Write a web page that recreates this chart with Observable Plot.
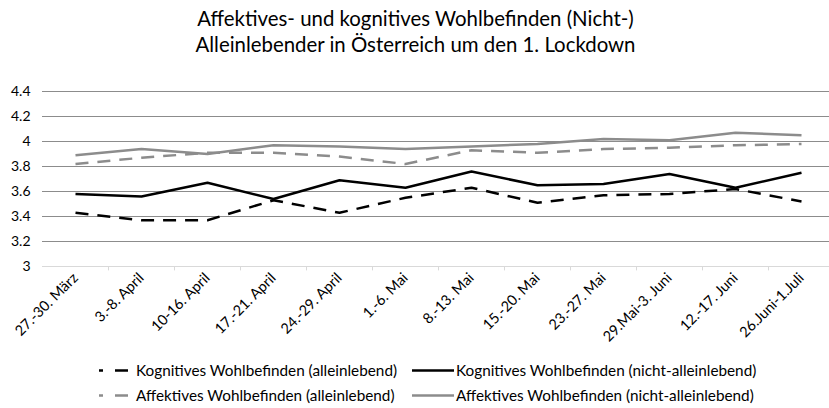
<!DOCTYPE html>
<html><head><meta charset="utf-8">
<script src="https://cdn.jsdelivr.net/npm/d3@7"></script>
<script src="https://cdn.jsdelivr.net/npm/@observablehq/plot@0.6"></script>
<style>
body{margin:0;background:#fff;font-family:Lato,sans-serif;width:829px;height:408px;overflow:hidden;position:relative;color:#000}
#title{height:60px;text-align:center;font-size:20.4px;line-height:26px;padding-top:5px;box-sizing:border-box;padding-left:2px}
#chart svg{display:block}
.leg{position:absolute;font-size:15.3px;white-space:nowrap;line-height:16px}
.leg svg{position:absolute;left:0;top:0}
</style></head><body>
<div id="title">Affektives- und kognitives Wohlbefinden (Nicht-)<br>Alleinlebender in Österreich um den 1. Lockdown</div>
<div id="chart"></div>
<div id="legend"></div>
<script>
const categories = ["27.-30. März","3.-8. April","10-16. April","17.-21. April","24.-29. April","1.-6. Mai","8.-13. Mai","15.-20. Mai","23.-27. Mai","29.Mai-3. Juni","12.-17. Juni","26.Juni-1.Juli"];
const kognitivAllein = [3.43,3.37,3.37,3.53,3.43,3.55,3.63,3.51,3.57,3.58,3.62,3.52];
const kognitivNichtAllein = [3.58,3.56,3.67,3.54,3.69,3.63,3.76,3.65,3.66,3.74,3.63,3.75];
const affektivAllein = [3.82,3.87,3.91,3.91,3.88,3.82,3.93,3.91,3.94,3.95,3.97,3.98];
const affektivNichtAllein = [3.89,3.94,3.90,3.97,3.96,3.94,3.96,3.98,4.02,4.01,4.07,4.05];
const yTicks = [3,3.2,3.4,3.6,3.8,4,4.2,4.4];
const seriesNames = ["Kognitives Wohlbefinden (alleinlebend)","Kognitives Wohlbefinden (nicht-alleinlebend)","Affektives Wohlbefinden (alleinlebend)","Affektives Wohlbefinden (nicht-alleinlebend)"];

const BLACK = "#000", GRAY = "#8c8c8c", DASH = "13,9";
const series = [
  {name: seriesNames[0], values: kognitivAllein, color: BLACK, dash: DASH},
  {name: seriesNames[1], values: kognitivNichtAllein, color: BLACK, dash: null},
  {name: seriesNames[2], values: affektivAllein, color: GRAY, dash: DASH},
  {name: seriesNames[3], values: affektivNichtAllein, color: GRAY, dash: null}
];
const idx = d3.range(categories.length);
const boundaries = d3.range(categories.length - 1).map(i => i + 0.5);

const chart = Plot.plot({
  width: 829, height: 290,
  marginTop: 31, marginBottom: 84, marginLeft: 42, marginRight: 0,
  x: {domain: [-0.5, categories.length - 0.5], range: [42, 834]},
  y: {domain: [3, 4.4], range: [206, 31]},
  style: {fontFamily: "Lato, sans-serif", fontSize: "13px", color: "#000", background: "#fff"},
  marks: [
    Plot.ruleY(yTicks.filter(d => d > 3), {stroke: "#8c8c8c", strokeWidth: 1}),
    Plot.ruleY([3], {stroke: "#d9d9d9", strokeWidth: 1}),
    Plot.ruleX(boundaries, {y1: 3, y2: 2.965, stroke: "#d9d9d9"}),
    Plot.axisY(yTicks, {tickSize: 0, tickPadding: 12, tickFormat: d => String(+d.toFixed(1)), label: null, fontSize: 14, fill: "#000"}),
    Plot.axisX(idx, {tickSize: 0, tickPadding: 9, tickRotate: -45, tickFormat: i => categories[i], label: null, fontSize: 14.5, fill: "#000"}),
    ...series.map(s => Plot.line(idx, {
      x: i => i, y: i => s.values[i],
      stroke: s.color, strokeWidth: 2.5, strokeDasharray: s.dash, strokeLinejoin: "round", strokeLinecap: "butt"
    }))
  ]
});
document.getElementById("chart").appendChild(chart);

const legendPos = [
  {x: 99, y: 362, sw: 29, tx: 136},
  {x: 412, y: 362, sw: 42, tx: 456},
  {x: 99, y: 387, sw: 29, tx: 136},
  {x: 412, y: 387, sw: 42, tx: 456}
];
const leg = document.getElementById("legend");
series.forEach((s, k) => {
  const p = legendPos[k];
  const div = document.createElement("div");
  div.className = "leg";
  div.style.left = p.x + "px";
  div.style.top = p.y + "px";
  div.style.height = "16px";
  div.style.width = "400px";
  const svg = d3.create("svg").attr("width", p.sw + 2).attr("height", 16);
  svg.append("line").attr("x1", 0).attr("x2", p.sw).attr("y1", 8.5).attr("y2", 8.5)
    .attr("stroke", s.color).attr("stroke-width", 2.5)
    .attr("stroke-dasharray", s.dash ? "4,12,13,9" : null);
  div.appendChild(svg.node());
  const span = document.createElement("span");
  span.textContent = s.name;
  span.style.position = "absolute";
  span.style.left = (p.tx - p.x) + "px";
  span.style.top = "0px";
  div.appendChild(span);
  leg.appendChild(div);
});
</script>
</body></html>
